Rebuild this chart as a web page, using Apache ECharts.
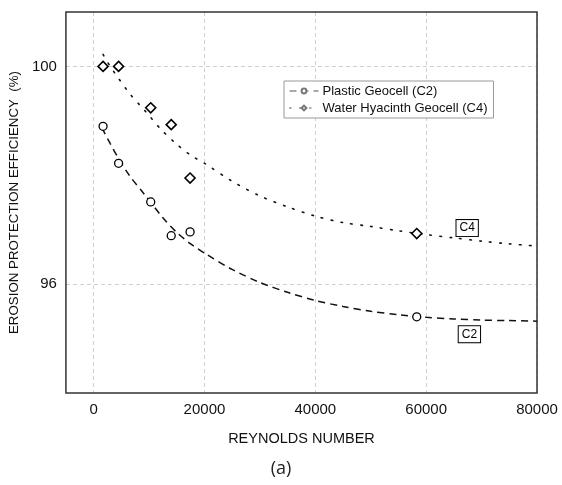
<!DOCTYPE html>
<html>
<head>
<meta charset="utf-8">
<script src="https://cdn.jsdelivr.net/npm/echarts@6/dist/echarts.min.js"></script>
<style>
  html, body { margin: 0; padding: 0; background: #fff; }
  #chart { width: 562px; height: 485px; }
</style>
</head>
<body>
<div id="chart"></div>
<script>
// Measured points: Reynolds number vs erosion protection efficiency (%)
const reynolds = [1700, 4500, 10300, 14000, 17400, 58300];
const plasticEff = [98.90, 98.22, 97.51, 96.89, 96.96, 95.40];
const hyacinthEff = [100.00, 100.00, 99.24, 98.93, 97.95, 96.93];

// Fitted trend curves (sampled along the drawn curves)
const plasticFitX = [1500, 3000, 4500, 6500, 9000, 12500, 15000, 17500, 20000, 25000, 30000, 35000, 40000, 45000, 50000, 55000, 60000, 65000, 70000, 75000, 80000];
const plasticFitY = [98.87, 98.58, 98.31, 97.99, 97.67, 97.22, 96.95, 96.74, 96.57, 96.27, 96.03, 95.85, 95.70, 95.59, 95.50, 95.44, 95.39, 95.36, 95.34, 95.33, 95.32];
const hyacinthFitX = [1700, 3000, 4500, 6500, 8500, 10000, 12000, 15000, 17500, 20000, 25000, 30000, 35000, 40000, 45000, 50000, 55000, 60000, 65000, 70000, 75000, 80000];
const hyacinthFitY = [100.22, 100.00, 99.78, 99.50, 99.27, 99.10, 98.86, 98.57, 98.37, 98.22, 97.89, 97.62, 97.42, 97.25, 97.13, 97.06, 96.98, 96.91, 96.85, 96.79, 96.74, 96.70];

// Axis ticks
const xTicks = [0, 20000, 40000, 60000, 80000];
const yTicks = [96, 100];

const seriesNames = ['Plastic Geocell (C2)', 'Water Hyacinth Geocell (C4)'];
const curveTags = ['C2', 'C4'];
const tagAnchors = [[67800, 95.08], [67400, 97.03]];

const FONT = '"Liberation Sans", Arial, sans-serif';

const zip = (xs, ys) => xs.map((x, i) => [x, ys[i]]);

const tagLabel = {
  show: true,
  formatter: '{b}',
  position: 'inside',
  color: '#000',
  fontFamily: FONT,
  fontSize: 12,
  lineHeight: 13,
  borderColor: '#000',
  borderWidth: 1,
  backgroundColor: '#fff',
  padding: [2, 3, 1, 3]
};

const chart = echarts.init(document.getElementById('chart'), null, { renderer: 'canvas' });

chart.setOption({
  backgroundColor: '#fff',
  animation: false,
  title: {
    text: '(a)',
    left: 'center',
    top: 455,
    textStyle: { fontFamily: '"Open Sans", sans-serif', fontSize: 18, fontWeight: 'normal', color: '#222' }
  },
  grid: {
    left: 62, right: 25, top: 12, bottom: 92,
    show: true, z: 1, borderColor: '#333', borderWidth: 1.5, backgroundColor: 'transparent'
  },
  legend: {
    data: seriesNames,
    orient: 'vertical',
    left: 284, top: 81,
    itemWidth: 29, itemHeight: 6, itemGap: 3,
    padding: [3, 6, 3, 5],
    borderColor: '#999', borderWidth: 1,
    backgroundColor: '#fff',
    lineStyle: { width: 1, color: '#555' },
    itemStyle: { borderColor: '#777', borderWidth: 1 },
    textStyle: { fontFamily: FONT, fontSize: 13, lineHeight: 14, color: '#111', padding: [0, 0, 0, -1] }
  },
  xAxis: {
    type: 'value',
    min: -5000, max: 80000,
    name: 'REYNOLDS NUMBER',
    nameLocation: 'middle',
    nameGap: 38,
    nameTextStyle: { fontFamily: FONT, fontSize: 14.5, color: '#111' },
    axisLine: { show: false },
    axisTick: { show: false, customValues: xTicks },
    axisLabel: {
      customValues: xTicks, fontFamily: FONT, fontSize: 15, color: '#111', margin: 9,
      formatter: v => String(v)
    },
    splitLine: { show: true, lineStyle: { color: '#d0d0d0', type: [4, 3], width: 1 } }
  },
  yAxis: {
    type: 'value',
    min: 94, max: 101,
    name: 'EROSION PROTECTION EFFICIENCY  (%)',
    nameLocation: 'middle',
    nameGap: 38,
    nameTextStyle: { fontFamily: FONT, fontSize: 13.3, color: '#111' },
    axisLine: { show: false },
    axisTick: { show: false, customValues: yTicks },
    axisLabel: { customValues: yTicks, fontFamily: FONT, fontSize: 15, color: '#111', margin: 9 },
    splitLine: { show: true, lineStyle: { color: '#d0d0d0', type: [4, 3], width: 1 } }
  },
  series: [
    {
      name: seriesNames[0],
      type: 'line',
      data: zip(plasticFitX, plasticFitY),
      smooth: 0.3,
      symbol: 'emptyCircle',
      showSymbol: false,
      itemStyle: { color: '#777', borderColor: '#777' },
      lineStyle: { color: '#111', width: 1.5, type: [7, 5] },
      z: 3,
      markPoint: {
        symbol: 'rect', symbolSize: 1,
        itemStyle: { color: 'rgba(0,0,0,0)' },
        label: tagLabel,
        data: [{ name: curveTags[0], coord: tagAnchors[0] }]
      }
    },
    {
      name: seriesNames[1],
      type: 'line',
      data: zip(hyacinthFitX, hyacinthFitY),
      smooth: 0.3,
      symbol: 'emptyDiamond',
      showSymbol: false,
      itemStyle: { color: '#777', borderColor: '#777' },
      lineStyle: { color: '#111', width: 1.6, type: [1.6, 8.4], cap: 'round' },
      z: 3,
      markPoint: {
        symbol: 'rect', symbolSize: 1,
        itemStyle: { color: 'rgba(0,0,0,0)' },
        label: tagLabel,
        data: [{ name: curveTags[1], coord: tagAnchors[1] }]
      }
    },
    {
      name: 'C2 points',
      type: 'scatter',
      data: zip(reynolds, plasticEff),
      symbol: 'circle',
      symbolSize: 8,
      itemStyle: { color: '#fff', borderColor: '#000', borderWidth: 1.3, opacity: 1 },
      z: 4
    },
    {
      name: 'C4 points',
      type: 'scatter',
      data: zip(reynolds, hyacinthEff),
      symbol: 'diamond',
      symbolSize: [10, 10],
      itemStyle: { color: '#fff', borderColor: '#000', borderWidth: 1.6, opacity: 1 },
      z: 4
    }
  ]
});
</script>
</body>
</html>
